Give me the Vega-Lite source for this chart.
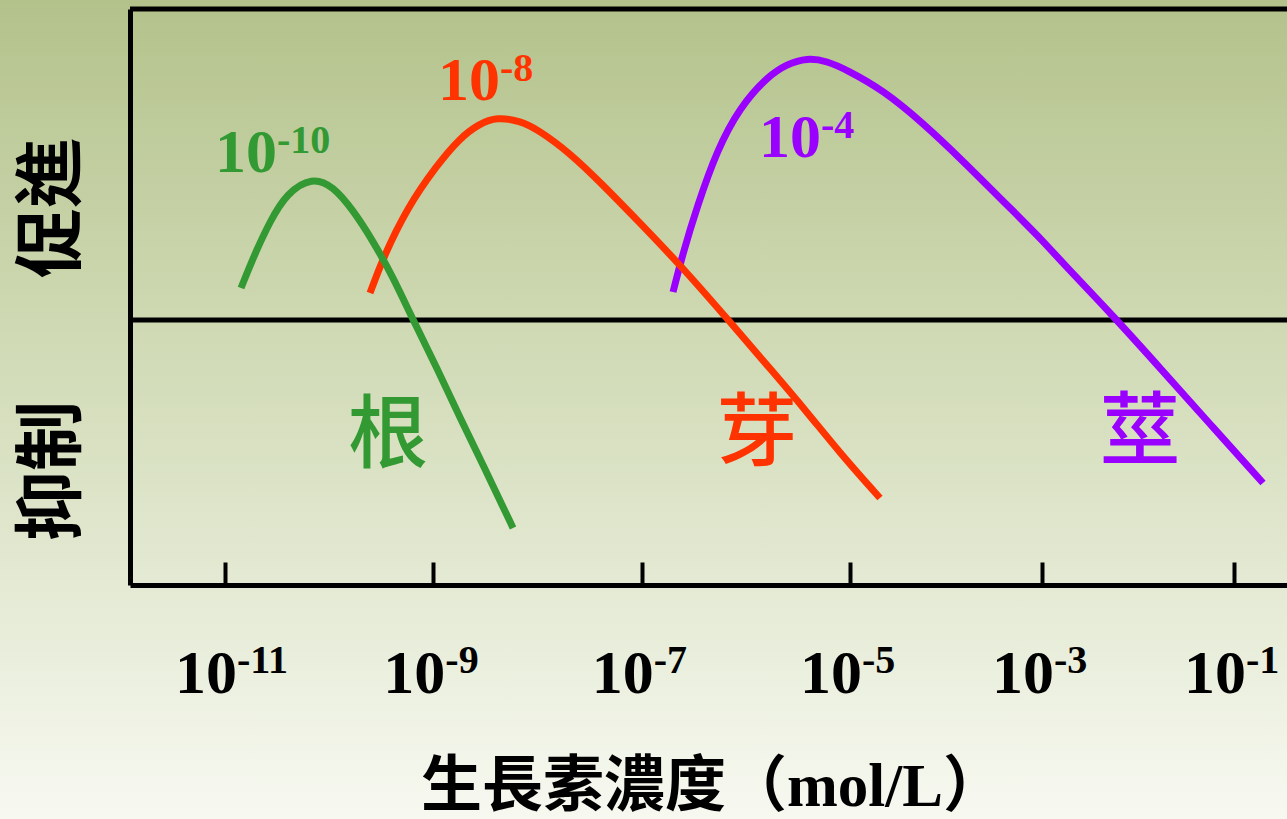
{
  "$schema": "https://vega.github.io/schema/vega-lite/v6.json",
  "width": 1157,
  "height": 576,
  "autosize": {"type": "none"},
  "padding": {"left": 130, "top": 9, "right": 0, "bottom": 234},
  "background": "#e6ebd8",
  "config": {"view": {"stroke": null}},
  "data": {"values": [{}]},
  "datasets": {
    "curves": [
      {"organ": "莖", "e": -6.699, "v": 0.28},
      {"organ": "莖", "e": -6.603, "v": 0.67},
      {"organ": "莖", "e": -6.469, "v": 1.13},
      {"organ": "莖", "e": -6.277, "v": 1.70},
      {"organ": "莖", "e": -6.056, "v": 2.13},
      {"organ": "莖", "e": -5.797, "v": 2.43},
      {"organ": "莖", "e": -5.605, "v": 2.56},
      {"organ": "莖", "e": -5.413, "v": 2.62},
      {"organ": "莖", "e": -5.221, "v": 2.59},
      {"organ": "莖", "e": -5.029, "v": 2.50},
      {"organ": "莖", "e": -4.656, "v": 2.30},
      {"organ": "莖", "e": -4.240, "v": 1.97},
      {"organ": "莖", "e": -3.854, "v": 1.62},
      {"organ": "莖", "e": -3.260, "v": 1.05},
      {"organ": "莖", "e": -2.990, "v": 0.79},
      {"organ": "莖", "e": -2.813, "v": 0.60},
      {"organ": "莖", "e": -2.219, "v": 0.00},
      {"organ": "莖", "e": -1.771, "v": -0.48},
      {"organ": "莖", "e": -1.250, "v": -1.04},
      {"organ": "莖", "e": -0.698, "v": -1.63},
      {"organ": "芽", "e": -9.608, "v": 0.27},
      {"organ": "芽", "e": -9.483, "v": 0.62},
      {"organ": "芽", "e": -9.253, "v": 1.12},
      {"organ": "芽", "e": -8.965, "v": 1.55},
      {"organ": "芽", "e": -8.744, "v": 1.82},
      {"organ": "芽", "e": -8.562, "v": 1.96},
      {"organ": "芽", "e": -8.389, "v": 2.03},
      {"organ": "芽", "e": -8.168, "v": 1.99},
      {"organ": "芽", "e": -8.005, "v": 1.91},
      {"organ": "芽", "e": -7.688, "v": 1.67},
      {"organ": "芽", "e": -7.371, "v": 1.35},
      {"organ": "芽", "e": -7.016, "v": 0.97},
      {"organ": "芽", "e": -6.603, "v": 0.52},
      {"organ": "芽", "e": -6.152, "v": -0.02},
      {"organ": "芽", "e": -5.739, "v": -0.52},
      {"organ": "芽", "e": -5.413, "v": -0.92},
      {"organ": "芽", "e": -5.096, "v": -1.33},
      {"organ": "芽", "e": -4.688, "v": -1.78},
      {"organ": "根", "e": -10.846, "v": 0.32},
      {"organ": "根", "e": -10.731, "v": 0.62},
      {"organ": "根", "e": -10.568, "v": 0.99},
      {"organ": "根", "e": -10.405, "v": 1.27},
      {"organ": "根", "e": -10.165, "v": 1.43},
      {"organ": "根", "e": -9.963, "v": 1.34},
      {"organ": "根", "e": -9.771, "v": 1.10},
      {"organ": "根", "e": -9.579, "v": 0.79},
      {"organ": "根", "e": -9.387, "v": 0.43},
      {"organ": "根", "e": -9.195, "v": 0.00},
      {"organ": "根", "e": -8.965, "v": -0.48},
      {"organ": "根", "e": -8.744, "v": -0.98},
      {"organ": "根", "e": -8.485, "v": -1.53},
      {"organ": "根", "e": -8.235, "v": -2.08}
    ],
    "optima": [
      {"organ": "根", "e": -10.501, "v": 1.48, "exp": "-10"},
      {"organ": "芽", "e": -8.36, "v": 2.20, "exp": "-8"},
      {"organ": "莖", "e": -5.279, "v": 1.63, "exp": "-4"}
    ],
    "names": [
      {"organ": "根", "e": -9.435, "v": -1.17},
      {"organ": "芽", "e": -5.893, "v": -1.15},
      {"organ": "莖", "e": -1.979, "v": -1.14}
    ],
    "ticks": [
      {"e": -11, "exp": "-11"},
      {"e": -9, "exp": "-9"},
      {"e": -7, "exp": "-7"},
      {"e": -5, "exp": "-5"},
      {"e": -3, "exp": "-3"},
      {"e": -1, "exp": "-1"}
    ],
    "effects": [
      {"effect": "促進", "e": -12.64, "v": 1.12},
      {"effect": "抑制", "e": -12.64, "v": -1.51}
    ]
  },
  "layer": [
    {
      "mark": {
        "type": "rect",
        "color": {
          "gradient": "linear",
          "x1": 0, "y1": 0, "x2": 0, "y2": 1,
          "stops": [
            {"offset": 0, "color": "#b3c28b"},
            {"offset": 0.4, "color": "#cfd9b3"},
            {"offset": 1, "color": "#f7f9f1"}
          ]
        }
      },
      "encoding": {
        "x": {"datum": -13.4},
        "x2": {"datum": 0},
        "y": {"datum": 3.22},
        "y2": {"datum": -5.0}
      }
    },
    {
      "mark": {"type": "rule", "color": "black", "strokeWidth": 5},
      "encoding": {"y": {"datum": 0}}
    },
    {
      "mark": {"type": "rule", "color": "black", "strokeWidth": 5},
      "encoding": {"y": {"datum": 3.11}}
    },
    {
      "data": {"name": "curves"},
      "mark": {"type": "line", "strokeWidth": 7, "interpolate": "basis"},
      "encoding": {
        "x": {
          "field": "e",
          "type": "quantitative",
          "scale": {
            "domain": [-11.912, -11, -5, -1, -0.448],
            "range": [0, 95, 720, 1104, 1157],
            "zero": false,
            "nice": false
          },
          "axis": {
            "values": [-11, -9, -7, -5, -3, -1],
            "labels": false,
            "grid": false,
            "zindex": 1,
            "domainColor": "black",
            "domainWidth": 5,
            "tickColor": "black",
            "tickWidth": 4,
            "tickSize": -23,
            "title": "生長素濃度（mol/L）",
            "titleFont": "'Liberation Serif', 'Noto Sans CJK TC'",
            "titleFontSize": 61,
            "titleFontWeight": "bold",
            "titleColor": "black",
            "titleX": 582,
            "titleY": 220,
            "titleAlign": "center",
            "titleBaseline": "alphabetic"
          }
        },
        "y": {
          "field": "v",
          "type": "quantitative",
          "scale": {"domain": [-2.65, 3.11], "zero": false, "nice": false},
          "axis": {
            "ticks": false,
            "labels": false,
            "grid": false,
            "title": null,
            "zindex": 1,
            "domainColor": "black",
            "domainWidth": 5
          }
        },
        "color": {
          "field": "organ",
          "type": "nominal",
          "scale": {"domain": ["根", "芽", "莖"], "range": ["#339933", "#ff3300", "#9900ff"]},
          "legend": null
        }
      }
    },
    {
      "data": {"name": "optima"},
      "mark": {"type": "text", "align": "right", "baseline": "alphabetic", "font": "Liberation Serif", "fontWeight": "bold", "fontSize": 62},
      "encoding": {
        "x": {"field": "e", "type": "quantitative"},
        "y": {"field": "v", "type": "quantitative"},
        "text": {"value": "10"},
        "color": {"field": "organ", "type": "nominal", "legend": null}
      }
    },
    {
      "data": {"name": "optima"},
      "mark": {"type": "text", "align": "left", "baseline": "alphabetic", "dy": -19, "font": "Liberation Serif", "fontWeight": "bold", "fontSize": 40},
      "encoding": {
        "x": {"field": "e", "type": "quantitative"},
        "y": {"field": "v", "type": "quantitative"},
        "text": {"field": "exp"},
        "color": {"field": "organ", "type": "nominal", "legend": null}
      }
    },
    {
      "data": {"name": "names"},
      "mark": {"type": "text", "align": "center", "baseline": "middle", "font": "Noto Sans CJK TC", "fontWeight": 500, "fontSize": 80},
      "encoding": {
        "x": {"field": "e", "type": "quantitative"},
        "y": {"field": "v", "type": "quantitative"},
        "text": {"field": "organ"},
        "color": {"field": "organ", "type": "nominal", "legend": null}
      }
    },
    {
      "data": {"name": "ticks"},
      "mark": {"type": "text", "align": "right", "baseline": "alphabetic", "dx": 12, "font": "Liberation Serif", "fontWeight": "bold", "fontSize": 62, "color": "black"},
      "encoding": {
        "x": {"field": "e", "type": "quantitative"},
        "y": {"datum": -3.73},
        "text": {"value": "10"}
      }
    },
    {
      "data": {"name": "ticks"},
      "mark": {"type": "text", "align": "left", "baseline": "alphabetic", "dx": 12, "dy": -20, "font": "Liberation Serif", "fontWeight": "bold", "fontSize": 40, "color": "black"},
      "encoding": {
        "x": {"field": "e", "type": "quantitative"},
        "y": {"datum": -3.73},
        "text": {"field": "exp"}
      }
    },
    {
      "data": {"name": "effects"},
      "mark": {"type": "text", "align": "center", "baseline": "middle", "angle": 270, "font": "Noto Sans CJK TC", "fontWeight": "bold", "fontSize": 70, "color": "black"},
      "encoding": {
        "x": {"field": "e", "type": "quantitative"},
        "y": {"field": "v", "type": "quantitative"},
        "text": {"field": "effect"}
      }
    }
  ]
}
